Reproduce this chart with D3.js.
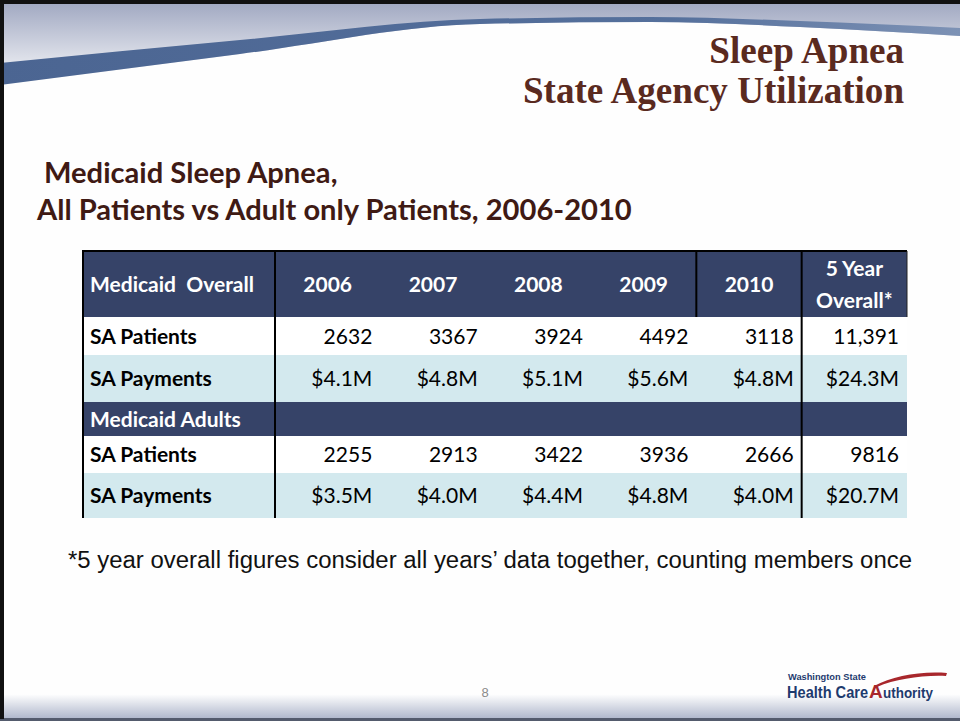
<!DOCTYPE html>
<html>
<head>
<meta charset="utf-8">
<script src="https://cdn.jsdelivr.net/npm/d3@7"></script>
<style>
html,body{margin:0;padding:0;background:#fff;}
svg{display:block;}
</style>
</head>
<body>
<svg id="chart" width="960" height="721"></svg>
<script>
// ---------------- DATA ----------------
const titleLines = ["Sleep Apnea", "State Agency Utilization"];
const subtitleLines = ["Medicaid Sleep Apnea,", "All Patients vs Adult only Patients, 2006-2010"];
const columns = ["2006", "2007", "2008", "2009", "2010", "5 Year Overall*"];
const overallPatients = ["2632", "3367", "3924", "4492", "3118", "11,391"];
const overallPayments = ["$4.1M", "$4.8M", "$5.1M", "$5.6M", "$4.8M", "$24.3M"];
const adultPatients = ["2255", "2913", "3422", "3936", "2666", "9816"];
const adultPayments = ["$3.5M", "$4.0M", "$4.4M", "$4.8M", "$4.0M", "$20.7M"];
const groupLabels = ["Medicaid  Overall", "Medicaid Adults"];
const rowLabels = ["SA Patients", "SA Payments"];
const footnote = "*5 year overall figures consider all years\u2019 data together, counting members once";
const pageNumber = "8";

// table rows built from the arrays above
const rows = [
  {type: "header", label: groupLabels[0], cells: columns},
  {type: "body", label: rowLabels[0], cells: overallPatients, fill: "#ffffff"},
  {type: "body", label: rowLabels[1], cells: overallPayments, fill: "#d3e9ee"},
  {type: "group", label: groupLabels[1], cells: []},
  {type: "body", label: rowLabels[0], cells: adultPatients, fill: "#ffffff"},
  {type: "body", label: rowLabels[1], cells: adultPayments, fill: "#d3e9ee"}
];

// ---------------- LAYOUT ----------------
const svg = d3.select("#chart");
const W = 960, H = 721;
const navy = "#364368";
const brown = "#5a2a1f";
const rowEdges = [251, 317, 355, 402, 436, 473, 518];
const tableLeft = 83, labelRight = 275, tableRight = 907;
const bodyFont = "Lato, 'Open Sans', sans-serif";

const defs = svg.append("defs");
const topGrad = defs.append("linearGradient").attr("id", "topGrad")
  .attr("x1", 0).attr("y1", 0).attr("x2", 0).attr("y2", 1);
topGrad.append("stop").attr("offset", "0%").attr("stop-color", "#9ea6c0");
topGrad.append("stop").attr("offset", "100%").attr("stop-color", "#ffffff");
const botGrad = defs.append("linearGradient").attr("id", "botGrad")
  .attr("x1", 0).attr("y1", 0).attr("x2", 0).attr("y2", 1);
botGrad.append("stop").attr("offset", "0%").attr("stop-color", "#ffffff");
botGrad.append("stop").attr("offset", "100%").attr("stop-color", "#aeb6cb");
const bandGrad = defs.append("linearGradient").attr("id", "bandGrad")
  .attr("x1", 0).attr("y1", 0).attr("x2", 1).attr("y2", 0);
bandGrad.append("stop").attr("offset", "0%").attr("stop-color", "#4b6592");
bandGrad.append("stop").attr("offset", "70%").attr("stop-color", "#55709c");
bandGrad.append("stop").attr("offset", "100%").attr("stop-color", "#7d92b5");

// background
svg.append("rect").attr("width", W).attr("height", H).attr("fill", "#fefefe");
// top gradient area
svg.append("rect").attr("x", 0).attr("y", 0).attr("width", W).attr("height", 90).attr("fill", "url(#topGrad)");

// swoosh band
const topEdge = [[0, 63], [240, 40], [480, 19], [650, 17], [800, 21], [960, 28]];
const botEdge = [[0, 85], [240, 54], [480, 24], [650, 22], [800, 27], [960, 36]];
const line = d3.line().curve(d3.curveMonotoneX);
// white region below band
svg.append("path")
  .attr("d", line(botEdge) + `L${W},95L0,95Z`)
  .attr("fill", "#fefefe");
svg.append("path")
  .attr("d", line(topEdge) + "L" + line(botEdge.slice().reverse()).slice(1) + "Z")
  .attr("fill", "url(#bandGrad)");

// bottom gradient
svg.append("rect").attr("x", 0).attr("y", 694).attr("width", W).attr("height", 25).attr("fill", "url(#botGrad)");
svg.append("rect").attr("x", 0).attr("y", 718).attr("width", W).attr("height", 3).attr("fill", "#545b6d");
// frame borders
svg.append("rect").attr("x", 0).attr("y", 0).attr("width", W).attr("height", 4).attr("fill", "#111");
svg.append("rect").attr("x", 0).attr("y", 0).attr("width", 4).attr("height", 719).attr("fill", "#111");

function fit(sel, target) {
  const w = sel.node().getComputedTextLength();
  const f = parseFloat(sel.attr("font-size"));
  sel.attr("font-size", (f * target / w).toFixed(2));
  return sel;
}

// title
const t1 = svg.append("text").attr("x", 904).attr("y", 63).attr("text-anchor", "end")
  .attr("font-family", "'Liberation Serif', 'DejaVu Serif', serif").attr("font-weight", "bold")
  .attr("font-size", 32).attr("fill", brown).text(titleLines[0]);
const t2 = svg.append("text").attr("x", 904).attr("y", 103).attr("text-anchor", "end")
  .attr("font-family", "'Liberation Serif', 'DejaVu Serif', serif").attr("font-weight", "bold")
  .attr("font-size", 32).attr("fill", brown).text(titleLines[1]);
fit(t2, 381);
t1.attr("font-size", t2.attr("font-size"));

// subtitle
const s2 = svg.append("text").attr("x", 37).attr("y", 220)
  .attr("font-family", bodyFont).attr("font-weight", "bold")
  .attr("font-size", 26).attr("fill", "#3f1a14").text(subtitleLines[1]);
fit(s2, 595);
svg.append("text").attr("x", 44).attr("y", 183)
  .attr("font-family", bodyFont).attr("font-weight", "bold")
  .attr("font-size", s2.attr("font-size")).attr("fill", "#3f1a14").text(subtitleLines[0]);

// ---------------- TABLE ----------------
const xCol = d3.scaleBand().domain(columns).range([labelRight, tableRight]).paddingInner(0).paddingOuter(0);
const yRow = d3.scaleOrdinal().domain(d3.range(rows.length)).range(rowEdges.slice(0, -1));
const rowH = i => rowEdges[i + 1] - rowEdges[i];
const fs = 21;

const tbl = svg.append("g");
rows.forEach((r, i) => {
  const y0 = yRow(i), h = rowH(i);
  const fill = r.type === "body" ? r.fill : navy;
  tbl.append("rect").attr("x", tableLeft).attr("y", y0).attr("width", tableRight - tableLeft).attr("height", h).attr("fill", fill);
  const color = r.type === "body" ? "#000" : "#fff";
  const mid = y0 + h / 2;
  tbl.append("text").attr("x", 90).attr("y", mid + fs * 0.36)
    .attr("font-family", bodyFont).attr("font-weight", "bold").attr("font-size", fs)
    .attr("fill", color).style("white-space", "pre").text(r.label);
  if (r.type === "header") {
    r.cells.forEach(c => {
      const cx = xCol(c) + xCol.bandwidth() / 2;
      const parts = c === columns[columns.length - 1] ? ["5 Year", "Overall*"] : [c];
      parts.forEach((p, k) => {
        const yy = parts.length === 1 ? mid + fs * 0.36 : mid + fs * 0.36 + (k === 0 ? -16 : 16);
        tbl.append("text").attr("x", cx).attr("y", yy).attr("text-anchor", "middle")
          .attr("font-family", bodyFont).attr("font-weight", "bold").attr("font-size", fs)
          .attr("fill", "#fff").text(p);
      });
    });
  } else if (r.type === "body") {
    r.cells.forEach((c, j) => {
      tbl.append("text").attr("x", xCol(columns[j]) + xCol.bandwidth() - 8).attr("y", mid + fs * 0.36)
        .attr("text-anchor", "end").attr("font-family", bodyFont).attr("font-size", fs)
        .attr("fill", "#000").text(c);
    });
  }
});
// grid lines
const tTop = rowEdges[0], tBottom = rowEdges[rowEdges.length - 1];
tbl.append("line").attr("x1", tableLeft - 1).attr("x2", tableRight).attr("y1", tTop).attr("y2", tTop).attr("stroke", "#000").attr("stroke-width", 2);
tbl.append("line").attr("x1", tableLeft).attr("x2", tableLeft).attr("y1", tTop).attr("y2", tBottom).attr("stroke", "#000").attr("stroke-width", 2);
tbl.append("line").attr("x1", labelRight).attr("x2", labelRight).attr("y1", tTop).attr("y2", tBottom).attr("stroke", "#000").attr("stroke-width", 2);
const lastCol = columns[columns.length - 1];
tbl.append("line").attr("x1", xCol(lastCol)).attr("x2", xCol(lastCol)).attr("y1", tTop).attr("y2", tBottom).attr("stroke", "#000").attr("stroke-width", 2);
tbl.append("line").attr("x1", xCol(columns[4])).attr("x2", xCol(columns[4])).attr("y1", tTop).attr("y2", rowEdges[1]).attr("stroke", "#000").attr("stroke-width", 2);
tbl.append("line").attr("x1", tableRight).attr("x2", tableRight).attr("y1", tTop).attr("y2", rowEdges[1]).attr("stroke", "#222").attr("stroke-width", 1);

// footnote
const fn = svg.append("text").attr("x", 68).attr("y", 568)
  .attr("font-family", "'Liberation Sans', Arial, sans-serif").attr("font-size", 20)
  .attr("fill", "#111").text(footnote);
fit(fn, 844);

// page number
svg.append("text").attr("x", 485).attr("y", 697).attr("text-anchor", "middle")
  .attr("font-family", "'Liberation Sans', Arial, sans-serif").attr("font-size", 13)
  .attr("fill", "#8a8a8a").text(pageNumber);

// logo
const logo = svg.append("g");
const l1 = logo.append("text").attr("x", 788).attr("y", 680)
  .attr("font-family", "'Liberation Sans', Arial, sans-serif").attr("font-weight", "bold")
  .attr("font-size", 9).attr("fill", "#1e3b6e")
  .text("Washington State");
fit(l1, 78);
const l2 = logo.append("text").attr("x", 787).attr("y", 698)
  .attr("font-family", "'Liberation Sans', Arial, sans-serif").attr("font-weight", "bold")
  .attr("font-size", 16).attr("fill", "#1e3b6e")
  .attr("transform", "translate(787,698) scale(1,1.12) translate(-787,-698)").text("Health Care");
fit(l2, 81);
logo.append("text").attr("x", 869).attr("y", 698)
  .attr("font-family", "'Liberation Sans', Arial, sans-serif").attr("font-weight", "bold")
  .attr("font-size", 19).attr("fill", "#a8272c").text("A");
const l3 = logo.append("text").attr("x", 883).attr("y", 698)
  .attr("font-family", "'Liberation Sans', Arial, sans-serif").attr("font-weight", "bold")
  .attr("font-size", 16).attr("fill", "#1e3b6e")
  .attr("transform", "translate(883,698) scale(1,1.12) translate(-883,-698)").text("uthority");
fit(l3, 50);
logo.append("path")
  .attr("d", "M874,686 C893,676 920,671 947,673 L946,676 C922,675 896,679 877,687 Z")
  .attr("fill", "#a8272c");
</script>
</body>
</html>
